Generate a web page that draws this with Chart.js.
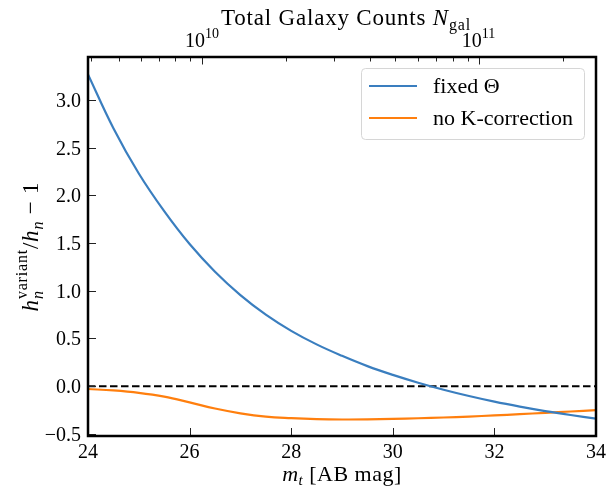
<!DOCTYPE html>
<html>
<head>
<meta charset="utf-8">
<script src="https://cdn.jsdelivr.net/npm/chart.js@4.4.1/dist/chart.umd.min.js"></script>
<style>
  html, body { margin: 0; padding: 0; background: #ffffff; }
  #wrap { width: 613px; height: 487px; }
</style>
</head>
<body>
<div id="wrap"><canvas id="c" width="613" height="487"></canvas></div>
<script>
// Limiting magnitude m_t [AB mag]
const mags = [24, 24.5, 25, 25.5, 26, 26.5, 27, 27.5, 28, 28.5, 29, 29.5, 30, 30.5, 31, 31.5, 32, 32.5, 33, 33.5, 34];
// h_n^variant / h_n - 1 for each variant
const fixedTheta = [3.27, 2.705, 2.23, 1.835, 1.49, 1.20, 0.955, 0.75, 0.58, 0.438, 0.318, 0.21, 0.118, 0.036, -0.038, -0.104, -0.163, -0.215, -0.262, -0.303, -0.34];
const noKCorrection = [-0.03, -0.045, -0.07, -0.11, -0.17, -0.235, -0.285, -0.32, -0.336, -0.346, -0.35, -0.349, -0.344, -0.337, -0.329, -0.319, -0.307, -0.294, -0.28, -0.266, -0.252];
const seriesLabels = ['fixed \u0398', 'no K-correction'];

// Bottom and left axis ticks
const xTicks = [24, 26, 28, 30, 32, 34];
const yTicks = [-0.5, 0.0, 0.5, 1.0, 1.5, 2.0, 2.5, 3.0];
// Top axis: total galaxy counts and the magnitude each count sits at
const countTicks = [4e9, 5e9, 6e9, 7e9, 8e9, 9e9, 1e10, 2e10, 3e10, 4e10, 5e10, 6e10, 7e10, 8e10, 9e10, 1e11, 2e11];
const countTickMags = [24.067, 24.61, 25.036, 25.404, 25.719, 26.006, 26.242, 27.888, 28.852, 29.56, 30.051, 30.498, 30.852, 31.178, 31.473, 31.689, 33.341];
const countLabels = [{ value: 1e10, base: '10', exp: '10' }, { value: 1e11, base: '10', exp: '11' }];

const SERIF = '"Liberation Serif", "DejaVu Serif", serif';
const toPts = (xs, ys) => xs.map((x, i) => ({ x: x, y: ys[i] }));

// Styled text runs (math-like labels with sub/superscripts)
function runWidth(ctx, parts) {
  let w = 0;
  for (const p of parts) {
    if (p.stack) {
      let m = 0;
      for (const s of p.stack) { ctx.font = s.font; m = Math.max(m, ctx.measureText(s.t).width); }
      w += m;
    } else {
      ctx.font = p.font; w += ctx.measureText(p.t).width;
    }
  }
  return w;
}
function drawRun(ctx, parts, x, y) {
  for (const p of parts) {
    if (p.stack) {
      let adv = 0;
      for (const s of p.stack) {
        ctx.font = s.font; ctx.fillText(s.t, x, y + s.dy);
        adv = Math.max(adv, ctx.measureText(s.t).width);
      }
      x += adv;
    } else {
      ctx.font = p.font; ctx.fillText(p.t, x, y + (p.dy || 0));
      x += ctx.measureText(p.t).width;
    }
  }
}

const axesPlugin = {
  id: 'axesPlugin',
  afterDraw(chart) {
    const ctx = chart.ctx;
    const a = chart.chartArea;
    const xs = chart.scales.x, ys = chart.scales.y, xt = chart.scales.xTop;
    ctx.save();
    ctx.fillStyle = '#000';
    ctx.textBaseline = 'alphabetic';

    // inward ticks
    ctx.lineWidth = 1;
    ctx.strokeStyle = '#222';
    ctx.beginPath();
    for (const v of xTicks) {
      const px = Math.round(xs.getPixelForValue(v)) + 0.5;
      ctx.moveTo(px, a.bottom); ctx.lineTo(px, a.bottom - 8);
    }
    for (const v of yTicks) {
      const py = Math.round(ys.getPixelForValue(v)) + 0.5;
      ctx.moveTo(a.left, py); ctx.lineTo(a.left + 8, py);
    }
    countTicks.forEach((n, i) => {
      const px = Math.round(xt.getPixelForValue(countTickMags[i])) + 0.5;
      const major = countLabels.some(l => l.value === n);
      ctx.moveTo(px, a.top); ctx.lineTo(px, a.top + (major ? 7.5 : 4.5));
    });
    ctx.stroke();

    // frame
    ctx.strokeStyle = '#000';
    ctx.lineWidth = 2.5;
    ctx.strokeRect(a.left, a.top, a.right - a.left, a.bottom - a.top);

    // bottom tick labels
    ctx.font = '20px ' + SERIF;
    ctx.textAlign = 'center';
    for (const v of xTicks) {
      ctx.fillText(String(v), xs.getPixelForValue(v), a.bottom + 22);
    }
    // left tick labels
    ctx.textAlign = 'right';
    for (const v of yTicks) {
      const s = v.toFixed(1).replace('-', '\u2212');
      ctx.fillText(s, a.left - 7, ys.getPixelForValue(v) + 7);
    }

    // top tick labels (powers of ten)
    ctx.textAlign = 'left';
    countLabels.forEach(l => {
      const i = countTicks.indexOf(l.value);
      const px = xt.getPixelForValue(countTickMags[i]);
      const parts = [
        { t: l.base, font: '20px ' + SERIF },
        { t: l.exp, font: '14px ' + SERIF, dy: -9 }
      ];
      const w = runWidth(ctx, parts);
      drawRun(ctx, parts, px - w / 2, a.top - 10);
    });

    // top axis title
    {
      ctx.letterSpacing = '0.8px';
      const parts = [
        { t: 'Total Galaxy Counts ', font: '23px ' + SERIF },
        { t: 'N', font: 'italic 23px ' + SERIF },
        { t: 'gal', font: '16px ' + SERIF, dy: 5 }
      ];
      const w = runWidth(ctx, parts);
      drawRun(ctx, parts, (a.left + a.right) / 2 - w / 2 + 4, 25);
      ctx.letterSpacing = '0px';
    }

    // bottom axis title
    {
      ctx.letterSpacing = '0.5px';
      const parts = [
        { t: 'm', font: 'italic 22px ' + SERIF },
        { t: 't', font: 'italic 15px ' + SERIF, dy: 4 },
        { t: ' [AB mag]', font: '22px ' + SERIF }
      ];
      const w = runWidth(ctx, parts);
      drawRun(ctx, parts, (a.left + a.right) / 2 - w / 2, 481);
      ctx.letterSpacing = '0px';
    }

    // left axis title (rotated)
    {
      ctx.letterSpacing = '0.8px';
      const parts = [
        { t: 'h', font: 'italic 23px ' + SERIF },
        { stack: [
          { t: 'variant', font: '16px ' + SERIF, dy: -11 },
          { t: 'n', font: 'italic 16px ' + SERIF, dy: 5 }
        ] },
        { t: '/', font: '23px ' + SERIF },
        { t: 'h', font: 'italic 23px ' + SERIF },
        { t: 'n', font: 'italic 16px ' + SERIF, dy: 5 },
        { t: ' \u2212 1', font: '23px ' + SERIF }
      ];
      const w = runWidth(ctx, parts);
      ctx.save();
      ctx.translate(38, (a.top + a.bottom) / 2);
      ctx.rotate(-Math.PI / 2);
      drawRun(ctx, parts, -w / 2, 0);
      ctx.restore();
      ctx.letterSpacing = '0px';
    }

    // legend
    {
      const bx = 361.5, by = 68.5, bw = 223, bh = 71, r = 4;
      ctx.fillStyle = 'rgba(255,255,255,0.8)';
      ctx.strokeStyle = '#d6d6d6';
      ctx.lineWidth = 1;
      ctx.beginPath();
      ctx.roundRect(bx, by, bw, bh, r);
      ctx.fill();
      ctx.stroke();
      const rows = [86, 118];
      chart.data.datasets.slice(0, 2).forEach((ds, i) => {
        ctx.strokeStyle = ds.borderColor;
        ctx.lineWidth = 2.2;
        ctx.beginPath();
        ctx.moveTo(369, rows[i]); ctx.lineTo(417, rows[i]);
        ctx.stroke();
        ctx.fillStyle = '#000';
        ctx.font = '22px ' + SERIF;
        ctx.textAlign = 'left';
        ctx.fillText(ds.label, 433, rows[i] + 7);
      });
    }
    ctx.restore();
  }
};

new Chart(document.getElementById('c'), {
  type: 'line',
  data: {
    datasets: [
      {
        label: seriesLabels[0],
        data: toPts(mags, fixedTheta),
        borderColor: '#3a7ebf',
        borderWidth: 2.2,
        pointRadius: 0,
        tension: 0.4,
        fill: false
      },
      {
        label: seriesLabels[1],
        data: toPts(mags, noKCorrection),
        borderColor: '#ff7f0e',
        borderWidth: 2.2,
        pointRadius: 0,
        tension: 0.4,
        fill: false
      },
      {
        label: 'zero',
        data: [{ x: 24, y: 0 }, { x: 34, y: 0 }],
        borderColor: '#000',
        borderWidth: 2,
        borderDash: [7.5, 3.5],
        pointRadius: 0,
        fill: false
      }
    ]
  },
  options: {
    responsive: false,
    animation: false,
    events: [],
    layout: { padding: { left: 88, right: 17, top: 57, bottom: 51 } },
    plugins: { legend: { display: false }, tooltip: { enabled: false } },
    scales: {
      x: { type: 'linear', min: 24, max: 34, display: false },
      xTop: { type: 'linear', position: 'top', min: 24, max: 34, display: false },
      y: { type: 'linear', min: -0.523, max: 3.452, display: false }
    }
  },
  plugins: [axesPlugin]
});
</script>
</body>
</html>
